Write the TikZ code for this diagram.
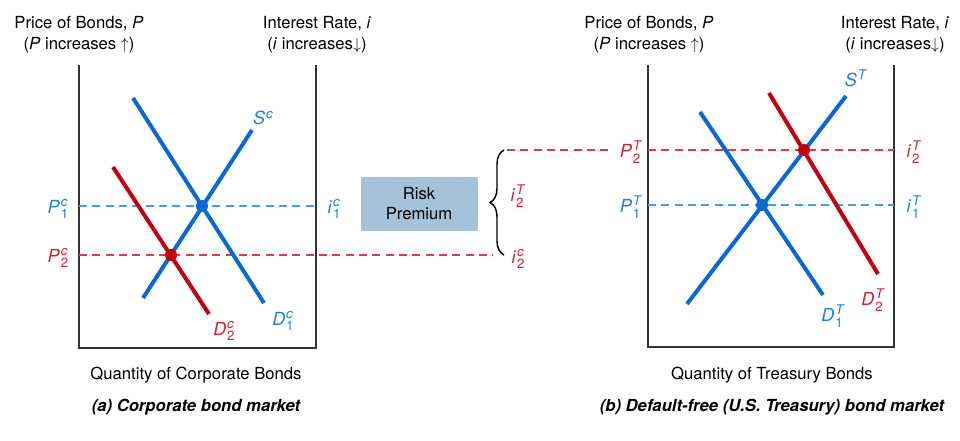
\documentclass[tikz,border=0pt]{standalone}
\usepackage{fontspec}
\setmainfont{TeX Gyre Heros}
\usetikzlibrary{decorations.pathreplacing}
\definecolor{cblue}{HTML}{0A68D4}
\definecolor{dblue}{HTML}{3BA2F0}
\definecolor{lblue}{HTML}{1C7FE2}
\definecolor{cred}{HTML}{C2000E}
\definecolor{dred}{HTML}{E23A46}
\definecolor{lred}{HTML}{D3202E}
\definecolor{boxfill}{HTML}{A4C2DA}
\newcommand\eqlab[3]{\textit{#1}\kern0.6pt\raisebox{-4.3pt}{\fontsize{10}{10}\selectfont\begin{tabular}[b]{@{}l@{}}\textit{#2}\\[-0.7pt]#3\end{tabular}}}
\newcommand\eqsup[2]{\textit{#1}\kern0.6pt\raisebox{5pt}{\fontsize{10}{10}\selectfont\textit{#2}}}
\begin{document}
\begin{tikzpicture}[x=0.75pt,y=-0.75pt,
  font=\fontsize{12.5}{15}\selectfont,
  axisline/.style={line width=1.2pt, draw=black!80},
  curveblue/.style={line width=3pt, draw=cblue},
  curvered/.style={line width=3pt, draw=cred},
  dashblue/.style={line width=1pt, draw=dblue, dash pattern=on 6pt off 4pt},
  dashred/.style={line width=1pt, draw=dred, dash pattern=on 6pt off 4pt},
  labb/.style={font=\fontsize{13.5}{16}\selectfont, text=lblue, inner sep=0pt},
  labr/.style={font=\fontsize{13.5}{16}\selectfont, text=lred, inner sep=0pt},
  eqdot/.style={circle, inner sep=0pt, minimum size=9pt},
  title/.style={align=center, inner sep=0pt},
  caption/.style={font=\fontsize{12.5}{15}\selectfont\bfseries\itshape, inner sep=0pt}]
\useasboundingbox (0,0) rectangle (960,440);

% ---------- left panel: corporate bonds ----------
\coordinate (LT) at (79,65);
\coordinate (LB) at (79,348);
\coordinate (RB) at (316,348);
\coordinate (RT) at (316,65);
\draw[axisline] (LT) -- (LB) -- (RB) -- (RT);

\node[title] (tP1) at (79,24) {Price of Bonds, \textit{P}};
\node[title] (tP2) at (79,45) {(\textit{P} increases $\uparrow$)};
\node[title] (ti1) at (317,24) {Interest Rate, \textit{i}};
\node[title] (ti2) at (317,45) {(\textit{i} increases$\downarrow$)};

\coordinate (p1cL) at (79,206);
\coordinate (p1cR) at (316,206);
\coordinate (p2cL) at (79,255);
\coordinate (p2cR) at (493,255);
\draw[dashblue] (p1cL) -- (p1cR);
\draw[dashred] (p2cL) -- (p2cR);

\coordinate (Sc0) at (143,298);
\coordinate (Sc1) at (252,130);
\coordinate (D1c0) at (133,98);
\coordinate (D1c1) at (264,303);
\coordinate (D2c0) at (113,167);
\coordinate (D2c1) at (209,314);
\draw[curveblue] (Sc0) -- (Sc1);
\draw[curveblue] (D1c0) -- (D1c1);
\draw[curvered] (D2c0) -- (D2c1);
\node[eqdot, fill=cblue] (E1c) at (202,206) {};
\node[eqdot, fill=cred] (E2c) at (171,255) {};

\node[labb] (lSc) at (263,118) {\eqsup{S}{c}};
\node[labb] (lD1c) at (283,322) {\eqlab{D}{c}{1}};
\node[labr] (lD2c) at (224,332) {\eqlab{D}{c}{2}};
\node[labb] (lP1c) at (58,210) {\eqlab{P}{c}{1}};
\node[labr] (lP2c) at (58,259) {\eqlab{P}{c}{2}};
\node[labb] (li1c) at (334,210) {\eqlab{i}{c}{1}};

\node[title] (qc) at (196,375) {Quantity of Corporate Bonds};
\node[caption] (capa) at (196,407) {(a) Corporate bond market};

% ---------- middle ----------
\node[fill=boxfill, minimum width=87.75pt, minimum height=40.5pt, align=center,
      inner sep=0pt, font=\fontsize{12.5}{15}\selectfont] (rp) at (419,204) {Risk\\Premium};
\coordinate (brB) at (504,255);
\coordinate (brT) at (504,150);
\draw[decorate, decoration={brace, amplitude=10.5pt}, line width=1.1pt] (brB) -- (brT);
\node[labr] (li2Tm) at (518,198) {\eqlab{i}{T}{2}};
\node[labr] (li2c) at (518,260) {\eqlab{i}{c}{2}};

% ---------- right panel: treasury bonds ----------
\coordinate (LT2) at (648,65);
\coordinate (LB2) at (648,347);
\coordinate (RB2) at (894,347);
\coordinate (RT2) at (894,65);
\draw[axisline] (LT2) -- (LB2) -- (RB2) -- (RT2);

\node[title] (tP1b) at (649,24) {Price of Bonds, \textit{P}};
\node[title] (tP2b) at (649,45) {(\textit{P} increases $\uparrow$)};
\node[title] (ti1b) at (895,24) {Interest Rate, \textit{i}};
\node[title] (ti2b) at (895,45) {(\textit{i} increases$\downarrow$)};

\coordinate (p2TA) at (507,150);
\coordinate (p2TB) at (613,150);
\coordinate (p2TL) at (648,150);
\coordinate (p2TR) at (894,150);
\coordinate (p1TL) at (648,205);
\coordinate (p1TR) at (894,205);
\draw[dashred] (p2TA) -- (p2TB);
\draw[dashred] (p2TL) -- (p2TR);
\draw[dashblue] (p1TL) -- (p1TR);

\coordinate (ST0) at (687,304);
\coordinate (ST1) at (846,96);
\coordinate (D1T0) at (700,112);
\coordinate (D1T1) at (823,295);
\coordinate (D2T0) at (769,93);
\coordinate (D2T1) at (878,274);
\draw[curveblue] (ST0) -- (ST1);
\draw[curveblue] (D1T0) -- (D1T1);
\draw[curvered] (D2T0) -- (D2T1);
\node[eqdot, fill=cblue] (E1T) at (762,205) {};
\node[eqdot, fill=cred] (E2T) at (804,150) {};

\node[labb] (lST) at (856,78) {\eqsup{S}{T}};
\node[labb] (lD1T) at (833,318) {\eqlab{D}{T}{1}};
\node[labr] (lD2T) at (873,302) {\eqlab{D}{T}{2}};
\node[labr] (lP2T) at (631,154) {\eqlab{P}{T}{2}};
\node[labb] (lP1T) at (631,209) {\eqlab{P}{T}{1}};
\node[labr] (li2T) at (914,154) {\eqlab{i}{T}{2}};
\node[labb] (li1T) at (914,209) {\eqlab{i}{T}{1}};

\node[title] (qt) at (772,375) {Quantity of Treasury Bonds};
\node[caption] (capb) at (772,407) {(b) Default-free (U.S. Treasury) bond market};
\end{tikzpicture}
\end{document}
